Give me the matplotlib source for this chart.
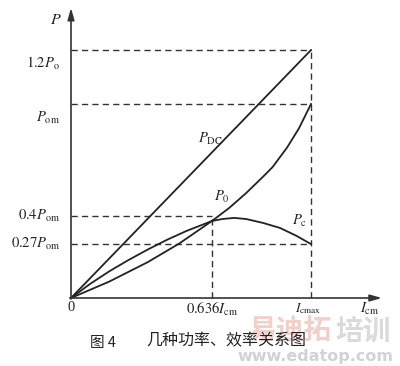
import matplotlib
matplotlib.use("Agg")
import matplotlib.pyplot as plt

plt.rcParams['mathtext.fontset'] = 'stix'
plt.rcParams['font.family'] = ['Liberation Serif', 'Noto Sans CJK SC', 'DejaVu Sans']

# Data (x in units of I_cmax, y in units of P_om)
pdc_x = [0.0, 1.0]
pdc_y = [0.0, 1.278]

po_x = [0.0, 0.16, 0.32, 0.45, 0.5875, 0.66, 0.729, 0.80, 0.84, 0.90, 0.95, 1.0]
po_y = [0.0, 0.085, 0.185, 0.28, 0.397, 0.465, 0.54, 0.625, 0.675, 0.775, 0.875, 1.0]

pc_x = [0.0, 0.08, 0.16, 0.24, 0.32, 0.40, 0.48, 0.5875, 0.63, 0.68, 0.73, 0.80, 0.871, 0.94, 1.0]
pc_y = [0.0, 0.073, 0.138, 0.196, 0.25, 0.30, 0.345, 0.397, 0.407, 0.413, 0.407, 0.387, 0.361, 0.320, 0.278]

x_mid = 0.5875
y_levels = [1.278, 1.0, 0.423, 0.278]
y_labels = [r'$1.2\mathit{P}_{\rm o}$', r'$\mathit{P}_{\rm om}$',
            r'$0.4\mathit{P}_{\rm om}$', r'$0.27\mathit{P}_{\rm om}$']
y_label_offsets = [-0.068, -0.072, 0.0, 0.0]

fig = plt.figure(figsize=(4.0, 3.66), dpi=100)
ax = fig.add_axes([0, 0, 1, 1])
ax.set_xlim(-0.2958, 1.3708)
ax.set_ylim(-0.3505, 1.536)
ax.axis('off')

# watermark (drawn first so it sits behind)
ax.text(0.9125, -0.172, '易迪拓', ha='center', va='center', fontsize=20, fontweight='bold',
        family=['Noto Sans CJK SC', 'DejaVu Sans'], color='#f2cfc8', zorder=0)
ax.text(1.215, -0.172, '培训', ha='center', va='center', fontsize=20, fontweight='bold',
        family=['Noto Sans CJK SC', 'DejaVu Sans'], color='#dadada', zorder=0)
ax.text(1.017, -0.302, 'www.edatop.com', ha='center', va='center', fontsize=11.5, fontweight='bold',
        family=['DejaVu Sans'], color='#d2d2d2', zorder=0)

dash = dict(color='#333333', lw=1.0, linestyle=(0, (4.5, 3)))
# horizontal dashed guides
ax.plot([0, 1.0], [y_levels[0]] * 2, **dash)
ax.plot([0, 1.0], [y_levels[1]] * 2, **dash)
ax.plot([0, x_mid], [y_levels[2]] * 2, **dash)
ax.plot([0, 1.0], [y_levels[3]] * 2, **dash)
# vertical dashed guides
ax.plot([1.0, 1.0], [0, y_levels[0]], **dash)
ax.plot([x_mid, x_mid], [0, y_levels[2]], **dash)

# curves
lc = '#222222'
ax.plot(pdc_x, pdc_y, color=lc, lw=1.3)
ax.plot(po_x, po_y, color=lc, lw=1.3)
ax.plot(pc_x, pc_y, color=lc, lw=1.3)

# axes with arrows
ax.annotate('', xy=(0, 1.495), xytext=(0, -0.005),
            arrowprops=dict(arrowstyle='-|>,head_length=0.7,head_width=0.2',
                            color='#333333', lw=1.2, shrinkA=0, shrinkB=0))
ax.annotate('', xy=(1.295, 0), xytext=(-0.005, 0),
            arrowprops=dict(arrowstyle='-|>,head_length=0.7,head_width=0.2',
                            color='#333333', lw=1.2, shrinkA=0, shrinkB=0))

fs = 10.5
for yv, lab, off in zip(y_levels, y_labels, y_label_offsets):
    ax.text(-0.045, yv + off, lab, ha='right', va='center', fontsize=fs, color='#222222')

ax.text(-0.065, 1.435, r'$\mathit{P}$', ha='center', va='center', fontsize=fs + 1, color='#222222')
ax.text(0.0, -0.05, '0', ha='center', va='center', fontsize=fs, color='#222222')
ax.text(x_mid, -0.057, r'$0.636\mathit{I}_{\rm cm}$', ha='center', va='center', fontsize=fs, color='#222222')
ax.text(0.99, -0.057, r'$\mathit{I}_{\rm cmax}$', ha='center', va='center', fontsize=fs - 1, color='#222222')
ax.text(1.245, -0.057, r'$\mathit{I}_{\rm cm}$', ha='center', va='center', fontsize=fs, color='#222222')

# curve labels
ax.text(0.58, 0.818, r'$\mathit{P}_{\rm DC}$', ha='center', va='center', fontsize=fs, color='#222222')
ax.text(0.63, 0.52, r'$\mathit{P}_{\rm 0}$', ha='center', va='center', fontsize=fs, color='#222222')
ax.text(0.954, 0.397, r'$\mathit{P}_{\rm c}$', ha='center', va='center', fontsize=fs, color='#222222')

# caption
ax.text(0.135, -0.232, '图 4', ha='center', va='center', fontsize=10.5,
        family=['Noto Sans CJK SC', 'DejaVu Sans'], color='#222222')
ax.text(0.646, -0.22, '几种功率、效率关系图', ha='center', va='center', fontsize=11.5,
        family=['Noto Sans CJK SC', 'DejaVu Sans'], color='#222222')

fig.savefig('out.png', dpi=100)
